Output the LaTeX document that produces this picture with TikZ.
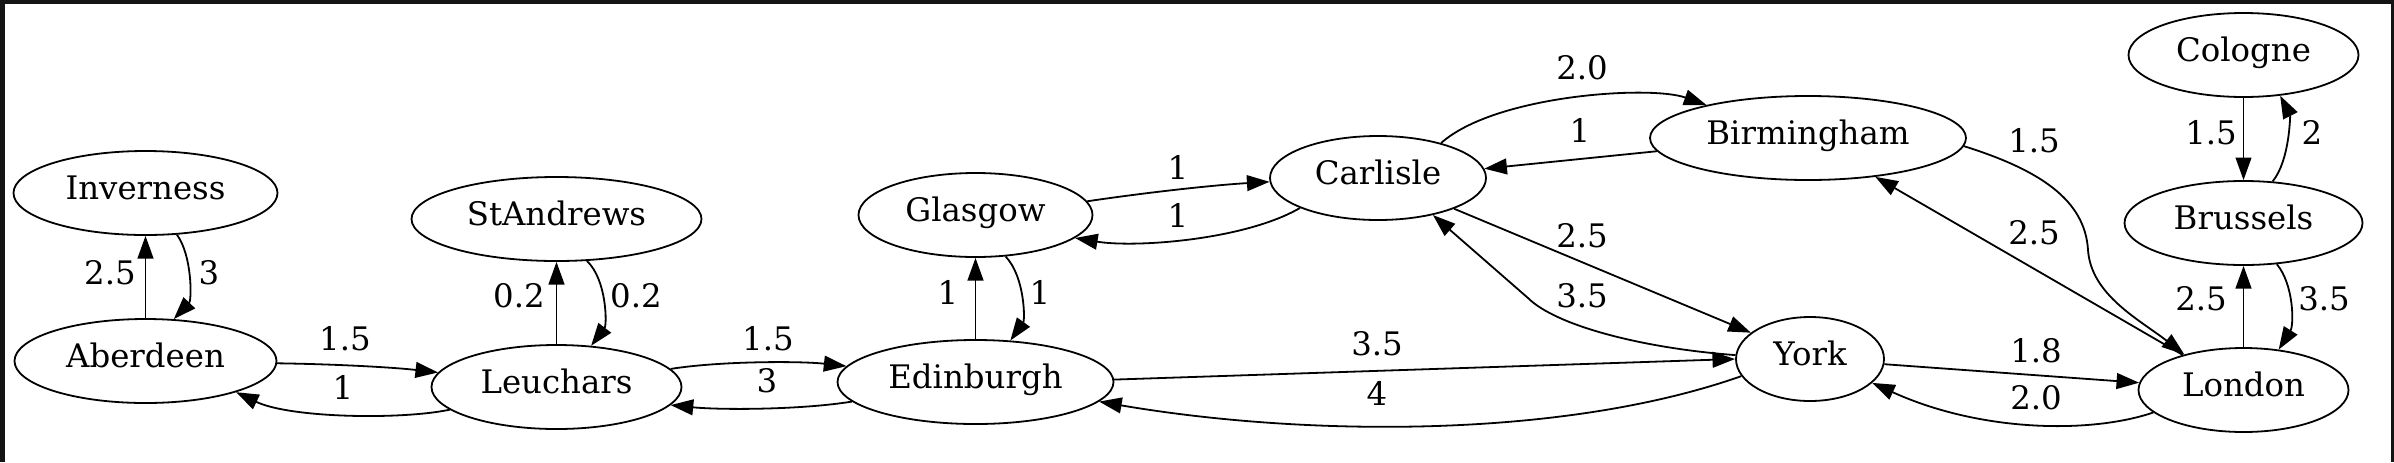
\documentclass[tikz,border=0pt]{standalone}
\usepackage{fontspec}
\setmainfont{DejaVu Serif}
\usetikzlibrary{shapes.geometric,arrows.meta}
\begin{document}
\begin{tikzpicture}[x=0.5pt,y=-0.5pt,
  city/.style={ellipse, draw, line width=0.9pt, inner sep=0pt,
    minimum width=#1, minimum height=42pt,
    font=\fontsize{16.2pt}{19pt}\selectfont, text height=0.72em, text depth=0.1em},
  lbl/.style={inner sep=0pt, font=\fontsize{16.2pt}{19pt}\selectfont,
    text height=0.73em, text depth=0pt},
  arr/.style={draw, line width=0.9pt, -{Triangle[length=11.3pt,width=7.9pt]}}]
\useasboundingbox (0,0) rectangle (2394,462);
\fill[black!92] (0,0) rectangle (2394,462);
\fill[white] (5,4) rectangle (2391,462);
% nodes
\node[city=132pt] (inv) at (145.5,193) {Inverness};
\node[city=131pt] (abe) at (145.5,361) {Aberdeen};
\node[city=145pt] (sta) at (556.5,219) {StAndrews};
\node[city=125pt] (leu) at (556.5,387) {Leuchars};
\node[city=117pt] (gla) at (975.5,215) {Glasgow};
\node[city=138pt] (edi) at (975.5,382) {Edinburgh};
\node[city=108pt] (car) at (1378,178) {Carlisle};
\node[city=158pt] (bir) at (1808,138) {Birmingham};
\node[city=74pt]  (yor) at (1810,359) {York};
\node[city=115pt] (col) at (2243.5,55) {Cologne};
\node[city=119pt] (bru) at (2243.5,223) {Brussels};
\node[city=105pt] (lon) at (2243.5,390) {London};
\coordinate (yc) at (1528,298);
\coordinate (bl) at (2088,250);
% edges
\draw[arr] (abe) -- (inv);
\draw[arr] (inv.-53) .. controls (192,255) and (192,300) .. (abe.56);
\draw[arr] (leu) -- (sta);
\draw[arr] (sta.-54) .. controls (607,280) and (607,325) .. (leu.50);
\draw[arr] (edi) -- (gla);
\draw[arr] (gla.-54.5) .. controls (1025,277) and (1025,320) .. (edi.50);
\draw[arr] (col) -- (bru);
\draw[arr] (bru.55) .. controls (2290,160) and (2290,115) .. (col.-48);
\draw[arr] (lon) -- (bru);
\draw[arr] (bru.-51) .. controls (2294,285) and (2294,325) .. (lon.49);
\draw[arr] (abe.-1) .. controls (330,364) and (390,367) .. (leu.173);
\draw[arr] (leu.192) .. controls (400,420) and (290,418) .. (abe.-19.6);
\draw[arr] (leu.9) .. controls (720,361) and (800,361) .. (edi.173.4);
\draw[arr] (edi.189) .. controls (800,410) and (720,410) .. (leu.-9);
\draw[arr] (gla.7.4) .. controls (1150,192) and (1215,185) .. (car.182.7);
\draw[arr] (car.201.8) .. controls (1245,240) and (1135,248) .. (gla.-13);
\draw[arr] (car.29.4) .. controls (1495,95) and (1650,85) .. (bir.162.4);
\draw[arr] (bir.185.5) -- (car.5.4);
\draw[arr] (car.-22.6) -- (yor.156.6);
\draw[arr] (yor.177) .. controls (1640,348) and (1555,325) .. (yc) -- (car.-34);
\draw[arr] (edi.1.7) -- (yor.180);
\draw[arr] (yor.194) .. controls (1560,440) and (1300,436) .. (edi.-9.8);
\draw[arr] (yor.-4.6) -- (lon.176.3);
\draw[arr] (lon.194.3) .. controls (2090,434) and (1980,432) .. (yor.-21.8);
\draw[arr] (bir.-3.6) .. controls (2040,170) and (2085,200) .. (bl) .. controls (2091,295) and (2140,320) .. (lon.149.2);
\draw[arr] (lon.150.4) -- (bir.-30);
% labels
\node[lbl] (l1) at (110,277) {2.5};
\node[lbl] (l2) at (209,277) {3};
\node[lbl] (l3) at (345,343) {1.5};
\node[lbl] (l4) at (343,392) {1};
\node[lbl] (l5) at (519,300) {0.2};
\node[lbl] (l6) at (636,300) {0.2};
\node[lbl] (l7) at (768,343) {1.5};
\node[lbl] (l8) at (767,385) {3};
\node[lbl] (l9) at (948,297) {1};
\node[lbl] (l10) at (1040,297) {1};
\node[lbl] (l11) at (1178,172) {1};
\node[lbl] (l12) at (1178,220) {1};
\node[lbl] (l13) at (1377,348) {3.5};
\node[lbl] (l14) at (1377,398) {4};
\node[lbl] (l15) at (1582,72) {2.0};
\node[lbl] (l16) at (1580,135) {1};
\node[lbl] (l17) at (1582,240) {2.5};
\node[lbl] (l18) at (1582,300) {3.5};
\node[lbl] (l19) at (2036,355) {1.8};
\node[lbl] (l20) at (2036,402) {2.0};
\node[lbl] (l21) at (2034,145) {1.5};
\node[lbl] (l22) at (2034,237) {2.5};
\node[lbl] (l23) at (2211,137) {1.5};
\node[lbl] (l24) at (2312,137) {2};
\node[lbl] (l25) at (2201,303) {2.5};
\node[lbl] (l26) at (2324,303) {3.5};
\end{tikzpicture}
\end{document}
